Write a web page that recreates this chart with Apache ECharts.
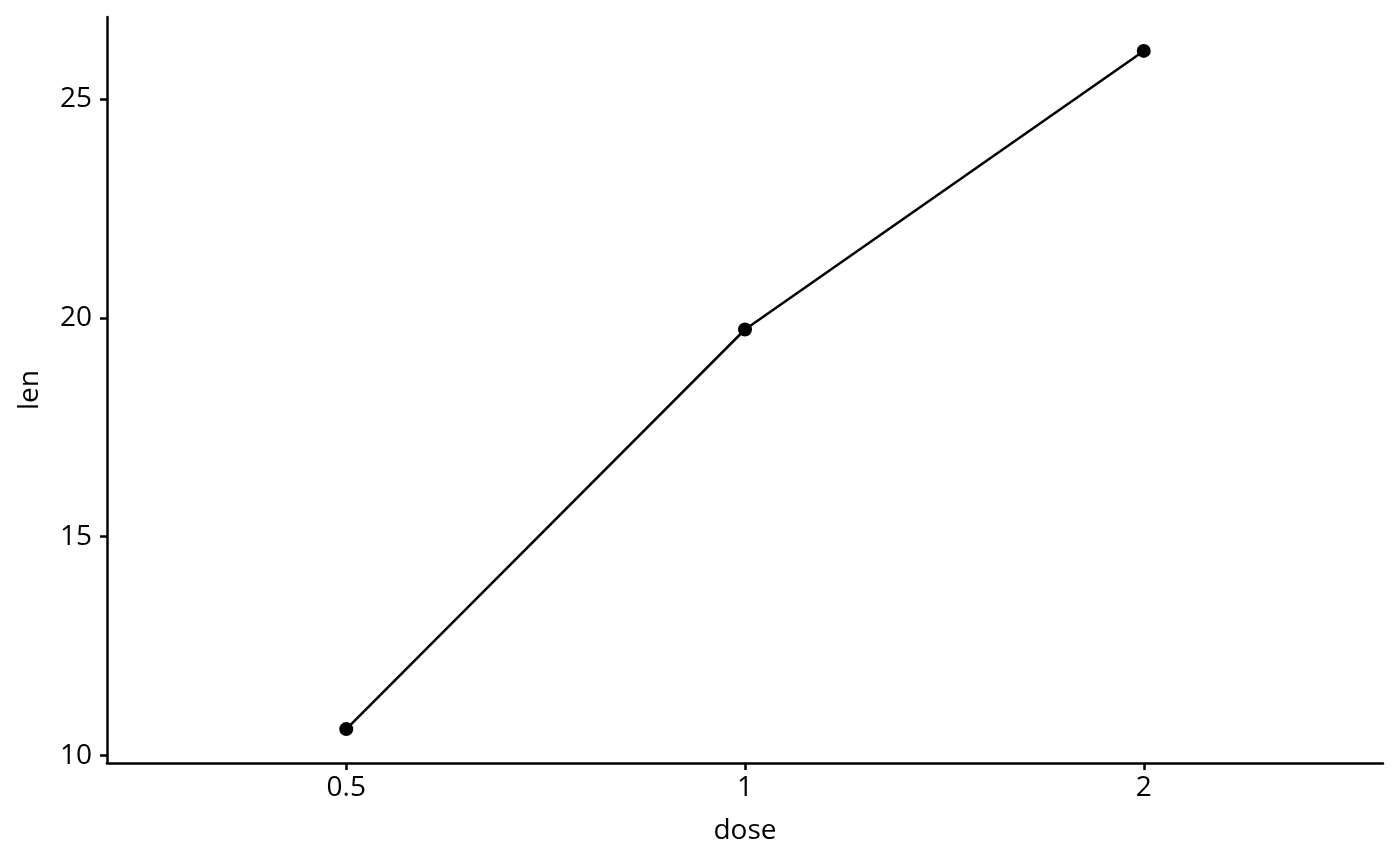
<!DOCTYPE html>
<html>
<head>
<meta charset="utf-8">
<script src="https://cdn.jsdelivr.net/npm/echarts@6/dist/echarts.min.js"></script>
<style>html,body{margin:0;padding:0;background:#fff}#c{width:1400px;height:866px}</style>
</head>
<body>
<div id="c"></div>
<script>
var categories = ['0.5', '1', '2'];
var lenValues = [10.605, 19.735, 26.1];
var yTicks = [10, 15, 20, 25];

var chart = echarts.init(document.getElementById('c'), null, {renderer: 'canvas'});
var font = '"Open Sans", "Noto Sans", sans-serif';
var data = lenValues.map(function (v, i) { return [i + 1, v]; });
var xPos = categories.map(function (c, i) { return i + 1; });
var FS = 28;

chart.setOption({
  animation: false,
  backgroundColor: '#fff',
  grid: {left: 107, right: 17, top: 17, bottom: 103, containLabel: false, outerBoundsMode: 'none'},
  xAxis: {
    type: 'value', min: 0.4, max: 3.6,
    name: 'dose', nameLocation: 'middle', nameGap: 54,
    nameTextStyle: {color: '#000', fontSize: FS, fontFamily: font},
    axisLine: {show: true, onZero: false, lineStyle: {color: '#000', width: 2.5}},
    axisTick: {show: true, length: 7, lineStyle: {color: '#000', width: 2.5}, customValues: xPos},
    axisLabel: {color: '#000', fontSize: FS, fontFamily: font, margin: 11, customValues: xPos,
      formatter: function (v) { return categories[Math.round(v) - 1]; }},
    splitLine: {show: false}
  },
  yAxis: {
    type: 'value', min: 9.83, max: 26.875,
    name: 'len', nameLocation: 'middle', nameGap: 63, nameRotate: 90,
    nameTextStyle: {color: '#000', fontSize: FS, fontFamily: font},
    axisLine: {show: true, onZero: false, lineStyle: {color: '#000', width: 2.5}},
    axisTick: {show: true, length: 7, lineStyle: {color: '#000', width: 2.5}, customValues: yTicks},
    axisLabel: {color: '#000', fontSize: FS, fontFamily: font, margin: 15, customValues: yTicks},
    splitLine: {show: false}
  },
  series: [{
    type: 'line', data: data,
    symbol: 'circle', symbolSize: 14,
    itemStyle: {color: '#000'},
    lineStyle: {color: '#000', width: 2.5}
  }]
});
</script>
</body>
</html>
